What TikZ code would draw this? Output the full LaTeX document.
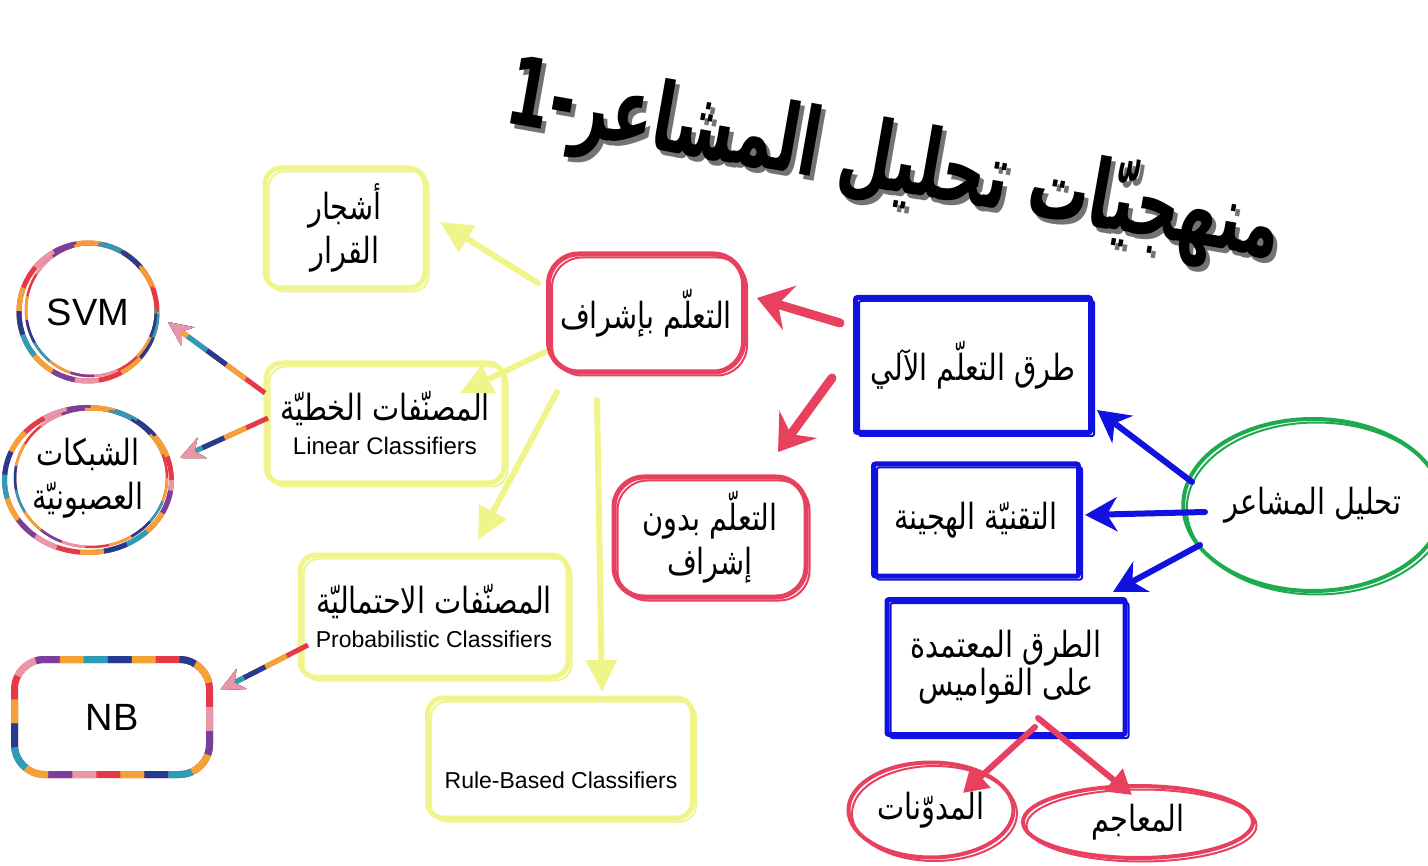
\documentclass[tikz,border=0pt]{standalone}
\usepackage{fontspec}
\setmainfont{Liberation Sans}
\newfontfamily\arabicfont[Script=Arabic,FakeStretch=0.8]{DejaVu Sans}
\newfontfamily\titlefont[Script=Arabic,FakeStretch=0.64]{DejaVu Sans}
\TeXXeTstate=1
\usetikzlibrary{arrows.meta,shapes.geometric}
\newcommand\ar[1]{{\arabicfont\beginR #1\endR}}
\definecolor{ylw}{HTML}{EFF58A}
\definecolor{rd}{HTML}{E8405F}
\definecolor{bl}{HTML}{1212E0}
\definecolor{gr}{HTML}{1EAA4E}
\definecolor{mcA}{HTML}{E63946}
\definecolor{mcB}{HTML}{F4A236}
\definecolor{mcC}{HTML}{243B8F}
\definecolor{mcD}{HTML}{2A9DB8}
\definecolor{mcE}{HTML}{E896A8}
\definecolor{mcF}{HTML}{7A3E9D}
\definecolor{mcG}{HTML}{E9C8A0}
\tikzset{
  sketch/.style={postaction={draw, line width=2pt, transform canvas={shift={(3.5pt,-3.5pt)}}}},
  ybox/.style={draw=ylw, line width=5pt, rounded corners=16pt, align=center, sketch},
  rbox/.style={draw=rd, line width=5pt, rounded corners=30pt, align=center, sketch},
  bbox/.style={draw=bl, line width=5pt, rounded corners=2pt, align=center, sketch},
  rell/.style={ellipse, draw=rd, line width=4pt, align=center, sketch},
  gell/.style={ellipse, draw=gr, line width=4pt, align=center, sketch},
  multi/.style={draw=mcA,
    postaction={draw=mcB, dash pattern=on 24pt off 144pt, dash phase=144pt},
    postaction={draw=mcC, dash pattern=on 24pt off 144pt, dash phase=120pt},
    postaction={draw=mcD, dash pattern=on 24pt off 144pt, dash phase=96pt},
    postaction={draw=mcB, dash pattern=on 24pt off 144pt, dash phase=72pt},
    postaction={draw=mcF, dash pattern=on 24pt off 144pt, dash phase=48pt},
    postaction={draw=mcE, dash pattern=on 24pt off 144pt, dash phase=24pt}},
  mring/.style={ellipse, multi, line width=5pt, align=center},
  mringin/.style={ellipse, multi, line width=2.5pt},
  mbox/.style={multi, line width=7pt, rounded corners=30pt, align=center},
  ar36/.style={font=\fontsize{36}{44}\selectfont},
  en38/.style={font=\fontsize{38}{44}\selectfont},
  yarr/.style={draw=ylw, line width=6pt, line cap=round, -{Triangle[length=32pt,width=30pt]}},
  barr/.style={draw=bl, line width=6pt, line cap=round, -{Stealth[length=32pt,width=34pt,inset=10pt]}},
  rarr/.style={draw=rd, line width=9pt, line cap=round, -{Stealth[length=34pt,width=46pt,inset=12pt]}},
  rarrs/.style={draw=rd, line width=6pt, line cap=round, -{Triangle[length=24pt,width=28pt]}},
  marr/.style={multi, line width=5pt, -{Stealth[length=24pt,width=22pt]}},
  titlestyle/.style={rotate=-10, font=\titlefont\bfseries\fontsize{95}{100}\selectfont}
}
\begin{document}
\begin{tikzpicture}[x=1pt,y=-1pt]
\useasboundingbox (0,0) rectangle (1428,866);
\fill[white] (0,0) rectangle (1428,866);

% title
\node[titlestyle, text=black!55] (titleshadow) at (898,171) {\beginR منهجيّات تحليل المشاعر-1\endR};
\node[titlestyle] (title) at (894,166) {\beginR منهجيّات تحليل المشاعر-1\endR};

% yellow boxes
\node[ybox, ar36, minimum width=160pt, minimum height=120pt] (dt) at (345,228) {\ar{أشجار}\\\ar{القرار}};
\node[ybox, ar36, minimum width=238pt, minimum height=120pt] (lin) at (385,423) {\ar{المصنّفات الخطيّة}\\[-10pt]{\fontsize{24}{28}\selectfont Linear Classifiers}};
\node[ybox, ar36, minimum width=268pt, minimum height=122pt] (prob) at (434,616) {\ar{المصنّفات الاحتماليّة}\\[-10pt]{\fontsize{23}{28}\selectfont Probabilistic Classifiers}};
\node[ybox, minimum width=265pt, minimum height=120pt] (rule) at (560,758) {};
\node[font=\fontsize{23}{28}\selectfont] (ruletxt) at (561,780) {Rule-Based Classifiers};

% multicolour nodes
\node[mring, en38, minimum width=138pt, minimum height=138pt] (svm) at (88,312) {SVM};
\node[mringin, minimum width=130pt, minimum height=132pt] (svmin) at (91,310) {};
\node[mring, ar36, minimum width=160pt, minimum height=145pt, text depth=12pt] (nn) at (88,480) {\ar{الشبكات}\\\ar{العصبونيّة}};
\node[mringin, minimum width=152pt, minimum height=138pt] (nnin) at (91,478) {};
\node[mbox, en38, minimum width=195pt, minimum height=115pt] (nb) at (112,717) {NB};

% red boxes
\node[rbox, ar36, minimum width=195pt, minimum height=118pt] (sup) at (646,313) {\ar{التعلّم بإشراف}};
\node[rbox, ar36, minimum width=192pt, minimum height=120pt] (unsup) at (710,537) {\ar{التعلّم بدون}\\\ar{إشراف}};

% blue boxes
\node[bbox, ar36, minimum width=235pt, minimum height=135pt] (ml) at (973,365) {\ar{طرق التعلّم الآلي}};
\node[bbox, ar36, minimum width=205pt, minimum height=112pt] (hyb) at (976,520) {\ar{التقنيّة الهجينة}};
\node[bbox, ar36, minimum width=238pt, minimum height=135pt] (lex) at (1006,667) {\ar{الطرق المعتمدة}\\[-6pt]\ar{على القواميس}};

% green circle
\node[gell, ar36, minimum width=208pt, minimum height=172pt] (sa) at (1313,505) {\ar{تحليل المشاعر}};

% red ellipses
\node[rell, ar36, minimum width=165pt, minimum height=95pt] (blog) at (931,810) {\ar{المدوّنات}};
\node[rell, ar36, minimum width=230pt, minimum height=72pt] (dict) at (1138,822) {\ar{المعاجم}};

% blue arrows
\draw[barr] ([shift={(-121,-23)}]sa.center) -- ([shift={(124,45)}]ml.center);
\draw[barr] ([shift={(-108,7)}]sa.center) -- ([shift={(109,-5)}]hyb.center);
\draw[barr] ([shift={(-113,40)}]sa.center) -- ([shift={(107,-75)}]lex.center);

% red arrows
\draw[rarr] ([shift={(-133,-42)}]ml.center) -- ([shift={(111,-15)}]sup.center);
\draw[rarr] ([shift={(-141,13)}]ml.center) -- ([shift={(68,-85)}]unsup.center);
\draw[rarrs] ([shift={(29,60)}]lex.center) -- ([shift={(32,-17)}]blog.center);
\draw[rarrs] ([shift={(32,51)}]lex.center) -- ([shift={(-6,-27)}]dict.center);

% yellow arrows
\draw[yarr] ([shift={(-108,-30)}]sup.center) -- ([shift={(95,-6)}]dt.center);
\draw[yarr] ([shift={(-101,39)}]sup.center) -- ([shift={(75,-30)}]lin.center);
\draw[yarr] ([shift={(-89,79)}]sup.center) -- ([shift={(44,-76)}]prob.center);
\draw[yarr] ([shift={(-49,87)}]sup.center) -- ([shift={(42,-66)}]rule.center);

% multicolour arrows
\draw[marr] ([shift={(-120,-30)}]lin.center) -- ([shift={(80,10)}]svm.center);
\draw[marr] ([shift={(-117,-5)}]lin.center) -- ([shift={(92,-22)}]nn.center);
\draw[marr] ([shift={(-126,29)}]prob.center) -- ([shift={(108,-27)}]nb.center);
\end{tikzpicture}
\end{document}
